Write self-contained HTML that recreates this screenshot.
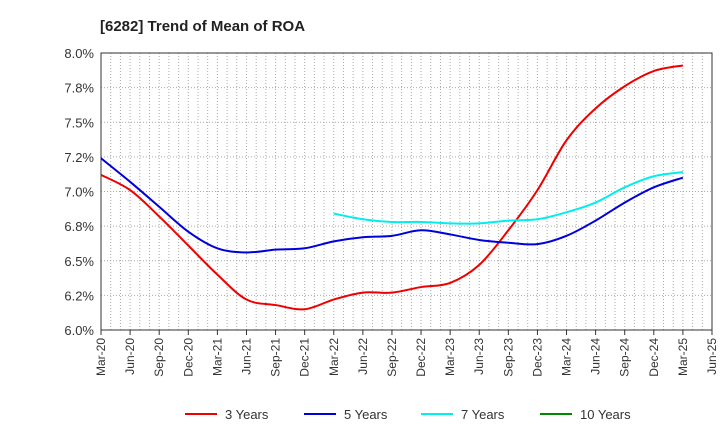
<!DOCTYPE html>
<html><head><meta charset="utf-8"><style>
body{margin:0;background:#fff;font-family:"Liberation Sans",Arial,sans-serif}
</style></head><body>
<svg id="c" width="720" height="440" xmlns="http://www.w3.org/2000/svg">
<text x="100" y="31" font-size="15" font-weight="bold" fill="#222">[6282]  Trend of Mean of ROA</text>
<g id="grid"></g><g id="axes"></g><g id="series"></g><g id="legend"></g>
</svg>
<script>
const xLabels=["Mar-20","Jun-20","Sep-20","Dec-20","Mar-21","Jun-21","Sep-21","Dec-21","Mar-22","Jun-22","Sep-22","Dec-22","Mar-23","Jun-23","Sep-23","Dec-23","Mar-24","Jun-24","Sep-24","Dec-24","Mar-25","Jun-25"];
const yTicks=[6.0,6.25,6.5,6.75,7.0,7.25,7.5,7.75,8.0];
const yTickLabels=["6.0%","6.2%","6.5%","6.8%","7.0%","7.2%","7.5%","7.8%","8.0%"];
const s3=[7.12,7.01,6.82,6.61,6.40,6.22,6.18,6.15,6.22,6.27,6.27,6.31,6.34,6.47,6.72,7.01,7.37,7.60,7.76,7.87,7.91];
const s5=[7.24,7.07,6.89,6.71,6.59,6.56,6.58,6.59,6.64,6.67,6.68,6.72,6.69,6.65,6.63,6.62,6.68,6.79,6.92,7.03,7.10];
const s7=[null,null,null,null,null,null,null,null,6.84,6.80,6.78,6.78,6.77,6.77,6.79,6.80,6.85,6.92,7.03,7.11,7.14];
const s10=[];
const L=101,R=712,T=53,B=330;
const X=i=>L+(R-L)*i/21;
const Y=v=>B-(v-6)/2*(B-T);
const NS="http://www.w3.org/2000/svg";
function mk(p,t,a){const e=document.createElementNS(NS,t);for(const k in a)e.setAttribute(k,a[k]);p.appendChild(e);return e;}
const g=document.getElementById('grid'),ax=document.getElementById('axes'),se=document.getElementById('series'),lg=document.getElementById('legend');
for(let m=1;m<63;m++){const x=L+(R-L)*m/63;const l=mk(g,'line',{x1:x,x2:x,y1:T,y2:B,stroke:'#aaa','stroke-dasharray':'1,2','stroke-width':1});

}
yTicks.forEach((v,i)=>{const y=Y(v);if(i>0&&i<yTicks.length-1){const l=mk(g,'line',{x1:L,x2:R,y1:y,y2:y,stroke:'#aaa','stroke-dasharray':'1,2'});

}
const t=mk(ax,'text',{x:L-7,y:y+5,'text-anchor':'end','font-size':13,fill:'#333'});t.textContent=yTickLabels[i];

});
const fr=mk(ax,'rect',{x:L,y:T,width:R-L,height:B-T,fill:'none',stroke:'#333','stroke-width':1});


xLabels.forEach((s,i)=>{const x=X(i);mk(ax,'line',{x1:x,x2:x,y1:B,y2:B+5,stroke:'#333'});
const t=mk(ax,'text',{transform:`translate(${x+4},${B+8}) rotate(-90)`,'text-anchor':'end','font-size':12,fill:'#333'});t.textContent=s;

});
function path(arr){const p=[];arr.forEach((v,i)=>{if(v!=null)p.push([X(i),Y(v)]);});if(p.length<2)return '';
let d=`M${p[0][0]},${p[0][1]}`;for(let i=0;i<p.length-1;i++){const p0=p[i-1]||p[i],p1=p[i],p2=p[i+1],p3=p[i+2]||p2;
d+=` C${p1[0]+(p2[0]-p0[0])/6},${p1[1]+(p2[1]-p0[1])/6} ${p2[0]-(p3[0]-p1[0])/6},${p2[1]-(p3[1]-p1[1])/6} ${p2[0]},${p2[1]}`;}return d;}
const series=[[s3,'#ee0000','3 Years','series-3-years'],[s5,'#0000dd','5 Years','series-5-years'],[s7,'#00eeee','7 Years','series-7-years'],[s10,'#008800','10 Years','series-10-years']];
series.forEach(([a,c,n,id])=>{const d=path(a);if(d){const p=mk(se,'path',{d:d,fill:'none',stroke:c,'stroke-width':2});

}});
const lx=[185,304,421,540];
series.forEach(([a,c,n,id],i)=>{const x=lx[i];const ge=mk(lg,'g',{});


mk(ge,'line',{x1:x,x2:x+32,y1:414,y2:414,stroke:c,'stroke-width':2});
const t=mk(ge,'text',{x:x+40,y:419,'font-size':13,fill:'#333'});t.textContent=n;});
</script>
</body></html>
